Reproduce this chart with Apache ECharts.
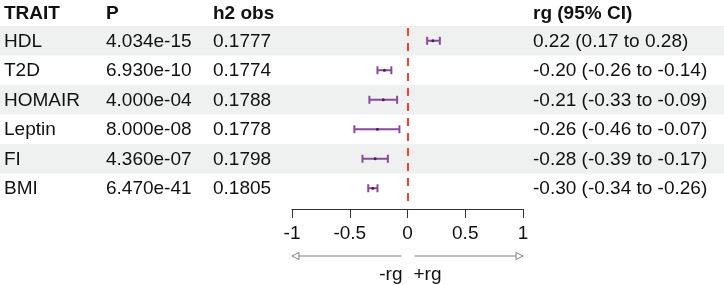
<!DOCTYPE html>
<html>
<head>
<meta charset="utf-8">
<script src="https://cdn.jsdelivr.net/npm/echarts@6/dist/echarts.min.js"></script>
<style>
  html, body { margin: 0; padding: 0; background: #fff; }
  #main { width: 724px; height: 285px; }
</style>
</head>
<body>
<div id="main"></div>
<script>
const traits = ['HDL', 'T2D', 'HOMAIR', 'Leptin', 'FI', 'BMI'];
const pValues = ['4.034e-15', '6.930e-10', '4.000e-04', '8.000e-08', '4.360e-07', '6.470e-41'];
const h2obs = ['0.1777', '0.1774', '0.1788', '0.1778', '0.1798', '0.1805'];
const rg = [0.22, -0.20, -0.21, -0.26, -0.28, -0.30];
const ciLow = [0.17, -0.26, -0.33, -0.46, -0.39, -0.34];
const ciHigh = [0.28, -0.14, -0.09, -0.07, -0.17, -0.26];
const headers = ['TRAIT', 'P', 'h2 obs', 'rg (95% CI)'];
const xTicks = [-1, -0.5, 0, 0.5, 1];

const FONT = '"Liberation Sans", Arial, sans-serif';
const colX = [4, 106, 213, 533];
const fmt = (v) => v.toFixed(2);

const chart = echarts.init(document.getElementById('main'));

const option = {
  animation: false,
  grid: { left: 292, right: 201, top: 26, bottom: 82 },
  xAxis: {
    type: 'value',
    min: xTicks[0],
    max: xTicks[xTicks.length - 1],
    interval: 0.5,
    offset: 6,
    splitLine: { show: false },
    axisLine: { show: true, lineStyle: { color: '#333', width: 1 } },
    axisTick: { show: true, length: 9, lineStyle: { color: '#333' } },
    axisLabel: {
      fontSize: 19, color: '#111', fontFamily: FONT, margin: 15,
      formatter: (v) => String(v),
    },
  },
  yAxis: {
    type: 'category',
    data: traits,
    inverse: true,
    show: false,
  },
  series: [
    {
      // row shading
      type: 'custom',
      clip: false,
      silent: true,
      z: 0,
      data: traits.map((t, i) => [0, i]),
      renderItem: (params, api) => {
        const i = api.value(1);
        if (i % 2 !== 0) return null;
        const c = api.coord([0, i]);
        const h = api.size([0, 1])[1];
        return {
          type: 'rect',
          shape: { x: 0, y: c[1] - h / 2, width: api.getWidth(), height: h },
          style: { fill: '#eff1f0' },
        };
      },
    },
    {
      // table text
      type: 'custom',
      clip: false,
      silent: true,
      z: 2,
      data: traits.map((t, i) => [0, i]),
      renderItem: (params, api) => {
        const i = api.value(1);
        const y = api.coord([0, i])[1] + 1;
        const cells = [traits[i], pValues[i], h2obs[i],
          `${fmt(rg[i])} (${fmt(ciLow[i])} to ${fmt(ciHigh[i])})`];
        return {
          type: 'group',
          children: cells.map((s, k) => ({
            type: 'text',
            style: {
              text: s, x: colX[k], y: y, fill: '#111',
              font: `19px ${FONT}`, textVerticalAlign: 'middle',
            },
          })),
        };
      },
    },
    {
      // CI bars
      type: 'custom',
      z: 3,
      data: traits.map((t, i) => [ciLow[i], i, ciHigh[i], rg[i]]),
      encode: { x: [0, 2, 3], y: 1 },
      renderItem: (params, api) => {
        const i = api.value(1);
        const a = api.coord([api.value(0), i]);
        const b = api.coord([api.value(2), i]);
        const m = api.coord([api.value(3), i]);
        const col = '#8a4a9c';
        const cap = 4;
        return {
          type: 'group',
          children: [
            { type: 'line', shape: { x1: a[0], y1: a[1], x2: b[0], y2: b[1] }, style: { stroke: col, lineWidth: 2 } },
            { type: 'line', shape: { x1: a[0], y1: a[1] - cap, x2: a[0], y2: a[1] + cap }, style: { stroke: col, lineWidth: 2 } },
            { type: 'line', shape: { x1: b[0], y1: b[1] - cap, x2: b[0], y2: b[1] + cap }, style: { stroke: col, lineWidth: 2 } },
            { type: 'circle', shape: { cx: m[0], cy: m[1], r: 1.5 }, style: { fill: '#4a1f55' } },
          ],
        };
      },
      markLine: {
        silent: true,
        symbol: 'none',
        label: { show: false },
        lineStyle: { color: '#ff2a1a', type: [8, 7], dashOffset: -2, width: 1.8 },
        data: [{ xAxis: 0 }],
      },
    },
  ],
};

chart.setOption(option);

// header row and direction arrows below the axis
const px = (v) => chart.convertToPixel({ xAxisIndex: 0 }, v);
const x0 = px(0), xl = px(-1), xr = px(1);
const ay = 256, head = 7;
const arrowStyle = { stroke: '#808080', lineWidth: 1.2 };
const graphics = headers.map((h, k) => ({
  type: 'text',
  x: colX[k],
  y: 14,
  style: { text: h, font: `bold 19px ${FONT}`, fill: '#111', textVerticalAlign: 'middle' },
}));
graphics.push(
  { type: 'line', shape: { x1: xl + head, y1: ay, x2: x0 - 6, y2: ay }, style: arrowStyle },
  { type: 'polygon', shape: { points: [[xl, ay], [xl + head, ay - 3.5], [xl + head, ay + 3.5]] }, style: { fill: '#fff', ...arrowStyle, lineWidth: 1 } },
  { type: 'line', shape: { x1: x0 + 7, y1: ay, x2: xr - head, y2: ay }, style: arrowStyle },
  { type: 'polygon', shape: { points: [[xr, ay], [xr - head, ay - 3.5], [xr - head, ay + 3.5]] }, style: { fill: '#fff', ...arrowStyle, lineWidth: 1 } },
  { type: 'text', x: x0 - 5, y: 275, style: { text: '-rg', font: `19px ${FONT}`, fill: '#111', textAlign: 'right', textVerticalAlign: 'middle' } },
  { type: 'text', x: x0 + 6, y: 275, style: { text: '+rg', font: `19px ${FONT}`, fill: '#111', textAlign: 'left', textVerticalAlign: 'middle' } },
);
chart.setOption({ graphic: graphics });
</script>
</body>
</html>
